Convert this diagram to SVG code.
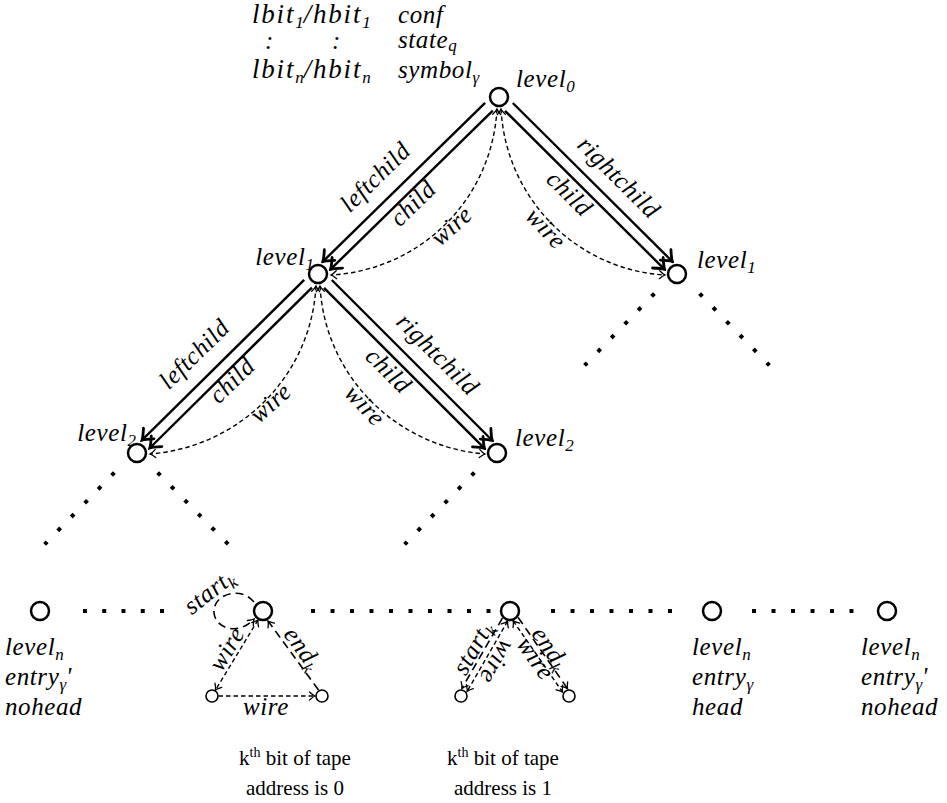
<svg xmlns="http://www.w3.org/2000/svg" width="947" height="803" viewBox="0 0 947 803" font-family="'Liberation Serif', 'Times New Roman', serif">
<style>
text{font-family:'Liberation Serif','Times New Roman','DejaVu Serif',serif;fill:#000}
.lbl{font-style:italic;font-size:25px;letter-spacing:0.6px}
.hdr{font-size:27px;letter-spacing:1.8px}
.sub{font-size:17px;letter-spacing:0}
.rm{font-style:normal;font-size:21px}
.node{fill:#fff;stroke:#000;stroke-width:2.5}
.snode{fill:#fff;stroke:#000;stroke-width:1.6}
.thick{fill:none;stroke:#000;stroke-width:2.4;marker-end:url(#ah)}
.wire{fill:none;stroke:#000;stroke-width:1.4;stroke-dasharray:4.5 3;marker-start:url(#sa);marker-end:url(#sa)}
.wire1{fill:none;stroke:#000;stroke-width:1.4;stroke-dasharray:4.5 3;marker-end:url(#sa)}
.loose{fill:none;stroke:#000;stroke-width:1.6;stroke-dasharray:8 5;marker-end:url(#sa)}
.dots{fill:none;stroke:#000;stroke-width:4;stroke-dasharray:4 15.3}
</style>
<defs>
<marker id="ah" viewBox="-12 -9 14 18" markerWidth="14" markerHeight="18" refX="0" refY="0" orient="auto" markerUnits="userSpaceOnUse">
<path d="M-9.5,-7.5 Q-3,-1.5 0,0 Q-3,1.5 -9.5,7.5" fill="none" stroke="#000" stroke-width="2.8" stroke-linecap="round"/>
</marker>
<marker id="sa" viewBox="-8 -6 10 12" markerWidth="10" markerHeight="12" refX="0" refY="0" orient="auto-start-reverse" markerUnits="userSpaceOnUse">
<path d="M-5.5,-4 Q-2,-0.8 0,0 Q-2,0.8 -5.5,4" fill="none" stroke="#000" stroke-width="1.3" stroke-linecap="round"/>
</marker>
</defs>
<rect width="947" height="803" fill="#fff"/>

<g id="header">
<text class="lbl hdr" x="252" y="23">lbit<tspan class="sub" dy="5">1</tspan><tspan dy="-5">/hbit</tspan><tspan class="sub" dy="5">1</tspan></text>
<text class="lbl" x="398" y="23">conf</text>
<text class="lbl" x="265" y="49">:</text>
<text class="lbl" x="332" y="49">:</text>
<text class="lbl" x="398" y="48">state<tspan class="sub" dy="3">q</tspan></text>
<text class="lbl hdr" x="252" y="78">lbit<tspan class="sub" dy="5">n</tspan><tspan dy="-5">/hbit</tspan><tspan class="sub" dy="5">n</tspan></text>
<text class="lbl" x="398" y="78">symbol<tspan class="sub" dy="5">γ</tspan></text>
</g>

<g id="connectors">
<line class="thick" x1="485.1" y1="102.9" x2="322.8" y2="261.6"/>
<line class="thick" x1="492.8" y1="110.7" x2="330.5" y2="269.4"/>
<path class="wire" d="M497,109 C492,200 420,270 331,275"/>
<line class="thick" x1="512.8" y1="103" x2="672.4" y2="261.6"/>
<line class="thick" x1="505" y1="110.8" x2="664.6" y2="269.4"/>
<path class="wire" d="M501,109 C506,200 578,270 665,275"/>
<line class="thick" x1="304.2" y1="279.9" x2="142" y2="440.2"/>
<line class="thick" x1="311.9" y1="287.7" x2="149.8" y2="448"/>
<path class="wire" d="M316,286 C311,377 239,447 150,454"/>
<line class="thick" x1="331.8" y1="280" x2="492.3" y2="440.5"/>
<line class="thick" x1="324" y1="287.8" x2="484.5" y2="448.3"/>
<path class="wire" d="M320,286 C325,377 397,447 485,454"/>

<path class="dots" d="M654.4,293.6 L584.6,365.4"/>
<path class="dots" d="M699.6,293.6 L769.4,365.4"/>
<path class="dots" d="M114.4,472.6 L44.6,544.4"/>
<path class="dots" d="M157.6,472.6 L228.4,544.4"/>
<path class="dots" d="M474.4,472.6 L404.6,544.4"/>
<path class="dots" d="M83,611 L164,611" style="stroke-dasharray:4 15.25"/>
<path class="dots" d="M311,611 L490.5,611" style="stroke-dasharray:4 15.5"/>
<path class="dots" d="M551,611 L672,611" style="stroke-dasharray:4 15.5"/>
<path class="dots" d="M752,611 L853.5,611" style="stroke-dasharray:4 15.5"/>

<path class="loose" d="M254,602 C240,585 212,595 214,613 C216,630 240,635 254,619"/>
<line class="wire" x1="258" y1="620" x2="215.5" y2="690"/>
<line class="loose" x1="318.5" y1="690" x2="268" y2="621"/>
<line class="wire1" x1="218.5" y1="696" x2="315" y2="696"/>

<line class="loose" x1="502.4" y1="618.2" x2="461.9" y2="688.4"/>
<line class="wire" x1="507.6" y1="621.2" x2="467.1" y2="691.4"/>
<line class="loose" x1="518.2" y1="617.5" x2="567.5" y2="688.6"/>
<line class="wire" x1="513.2" y1="620.9" x2="562.5" y2="692"/>

<text class="lbl" text-anchor="middle" transform="translate(381,183) rotate(-44.4)">leftchild</text>
<text class="lbl" text-anchor="middle" transform="translate(418.6,209.3) rotate(-44.4)">child</text>
<text class="lbl" text-anchor="middle" transform="translate(457,232) rotate(-42)">wire</text>
<text class="lbl" text-anchor="middle" transform="translate(613,183) rotate(44.8)">rightchild</text>
<text class="lbl" text-anchor="middle" transform="translate(563.7,199.3) rotate(44.8)">child</text>
<text class="lbl" text-anchor="middle" transform="translate(540,234) rotate(47)">wire</text>

<text class="lbl" text-anchor="middle" transform="translate(200,360) rotate(-44.4)">leftchild</text>
<text class="lbl" text-anchor="middle" transform="translate(237.6,386.3) rotate(-44.4)">child</text>
<text class="lbl" text-anchor="middle" transform="translate(276,409) rotate(-42)">wire</text>
<text class="lbl" text-anchor="middle" transform="translate(432,360) rotate(44.8)">rightchild</text>
<text class="lbl" text-anchor="middle" transform="translate(382.7,376.3) rotate(44.8)">child</text>
<text class="lbl" text-anchor="middle" transform="translate(359,411) rotate(47)">wire</text>

<text class="lbl" text-anchor="middle" transform="translate(214,598) rotate(-38)">start<tspan class="sub" dy="5">k</tspan></text>
<text class="lbl" text-anchor="middle" transform="translate(233.6,653) rotate(-59)">wire</text>
<text class="lbl" text-anchor="middle" transform="translate(296.2,653) rotate(54)">end<tspan class="sub" dy="5">k</tspan></text>
<text class="lbl" text-anchor="middle" x="266" y="715">wire</text>

<text class="lbl" text-anchor="middle" transform="translate(479.8,652) rotate(-60)">start<tspan class="sub" dy="5">k</tspan></text>
<text class="lbl" text-anchor="middle" transform="translate(490.2,658) rotate(120)">wire</text>
<text class="lbl" text-anchor="middle" transform="translate(529,663) rotate(55)">wire</text>
<text class="lbl" text-anchor="middle" transform="translate(543.8,652.7) rotate(55)">end<tspan class="sub" dy="5">k</tspan></text>
</g>

<g id="root">
<circle class="node" cx="499" cy="97" r="9"/>
<text class="lbl" x="516" y="87">level<tspan class="sub" dy="5">0</tspan></text>
</g>
<g id="level1-left">
<circle class="node" cx="318" cy="274" r="9"/>
<text class="lbl" text-anchor="end" x="314" y="265">level<tspan class="sub" dy="5">1</tspan></text>
</g>
<g id="level1-right">
<circle class="node" cx="677" cy="274" r="9"/>
<text class="lbl" x="697" y="268">level<tspan class="sub" dy="5">1</tspan></text>
</g>
<g id="level2-left">
<circle class="node" cx="137" cy="453" r="9"/>
<text class="lbl" text-anchor="end" x="136" y="441">level<tspan class="sub" dy="5">2</tspan></text>
</g>
<g id="level2-right">
<circle class="node" cx="497" cy="453" r="9"/>
<text class="lbl" x="515" y="446">level<tspan class="sub" dy="5">2</tspan></text>
</g>

<g id="leaf-1">
<circle class="node" cx="40" cy="611" r="9"/>
<text class="lbl" x="5" y="655">level<tspan class="sub" dy="5">n</tspan></text>
<text class="lbl" x="5" y="685">entry<tspan class="sub" dy="5">γ</tspan><tspan dy="-5">'</tspan></text>
<text class="lbl" x="5" y="715">nohead</text>
</g>
<g id="leaf-bit0">
<circle class="node" cx="263" cy="611" r="9"/>
<circle class="snode" cx="212" cy="696" r="6"/>
<circle class="snode" cx="322" cy="696" r="6"/>
<text class="rm" text-anchor="middle" x="295" y="765">k<tspan font-size="14" dy="-8">th</tspan><tspan dy="8"> bit of tape</tspan></text>
<text class="rm" text-anchor="middle" x="295" y="795">address is 0</text>
</g>
<g id="leaf-bit1">
<circle class="node" cx="510" cy="611" r="9"/>
<circle class="snode" cx="461" cy="696" r="6"/>
<circle class="snode" cx="569" cy="696" r="6"/>
<text class="rm" text-anchor="middle" x="503" y="765">k<tspan font-size="14" dy="-8">th</tspan><tspan dy="8"> bit of tape</tspan></text>
<text class="rm" text-anchor="middle" x="503" y="795">address is 1</text>
</g>
<g id="leaf-head">
<circle class="node" cx="712" cy="611" r="9"/>
<text class="lbl" x="692" y="655">level<tspan class="sub" dy="5">n</tspan></text>
<text class="lbl" x="692" y="685">entry<tspan class="sub" dy="5">γ</tspan></text>
<text class="lbl" x="692" y="715">head</text>
</g>
<g id="leaf-last">
<circle class="node" cx="887" cy="611" r="9"/>
<text class="lbl" x="861" y="655">level<tspan class="sub" dy="5">n</tspan></text>
<text class="lbl" x="861" y="685">entry<tspan class="sub" dy="5">γ</tspan><tspan dy="-5">'</tspan></text>
<text class="lbl" x="861" y="715">nohead</text>
</g>
</svg>
